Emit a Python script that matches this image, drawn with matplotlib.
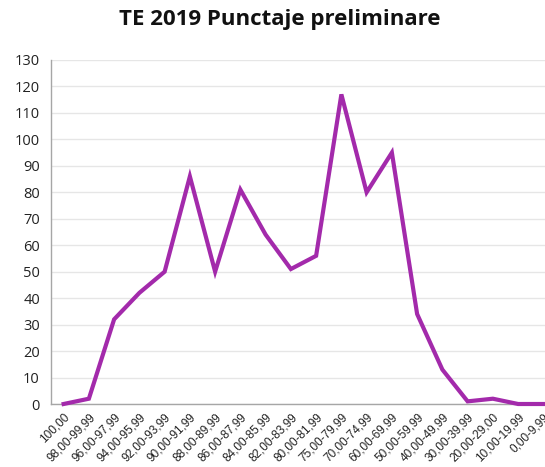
import matplotlib
matplotlib.use("Agg")
import matplotlib.pyplot as plt

categories = ["100,00", "98,00-99,99", "96,00-97,99", "94,00-95,99", "92,00-93,99",
              "90,00-91,99", "88,00-89,99", "86,00-87,99", "84,00-85,99", "82,00-83,99",
              "80,00-81,99", "75,00-79,99", "70,00-74,99", "60,00-69,99", "50,00-59,99",
              "40,00-49,99", "30,00-39,99", "20,00-29,00", "10,00-19,99", "0,00-9,99"]
values = [0, 2, 32, 42, 50, 86, 50, 81, 64, 51, 56, 117, 80, 95, 34, 13, 1, 2, 0, 0]
yticks = list(range(0, 131, 10))
title = "TE 2019 Punctaje preliminare"

W, H = 545, 467
fig = plt.figure(figsize=(W/100, H/100), dpi=100)
left, right, top, bottom = 51, 556, 60, 404
ax = fig.add_axes([left/W, 1-bottom/H, (right-left)/W, (bottom-top)/H])

x = list(range(len(categories)))
ax.plot(x, values, color="#A32AAB", linewidth=3, solid_joinstyle="miter", clip_on=False, zorder=3)
ax.set_xlim(-0.5, len(categories)-0.5)
ax.set_ylim(0, 130)
ax.set_yticks(yticks)
ax.set_yticklabels([str(t) for t in yticks], fontsize=10.5, family="Open Sans", color="#222222")
ax.set_xticks(x)
ax.set_xticklabels(categories, rotation=45, ha="right", rotation_mode="anchor",
                   fontsize=8.5, family="Liberation Sans", color="#222222")
ax.tick_params(axis="y", length=0, pad=8)
ax.tick_params(axis="x", length=0, pad=5)
ax.grid(axis="y", color="#E6E6E6", linewidth=1)
ax.set_axisbelow(True)
for s in ["top", "right"]:
    ax.spines[s].set_visible(False)
ax.spines["left"].set_color("#A6A6A6")
ax.spines["bottom"].set_color("#A6A6A6")
ax.spines["left"].set_linewidth(1)
ax.spines["bottom"].set_linewidth(1)

fig.text(280/W, 1-20/H, title, ha="center", va="center", fontsize=16, fontweight="bold",
         family="Open Sans", color="#111111")

fig.savefig("out.png", dpi=100)
